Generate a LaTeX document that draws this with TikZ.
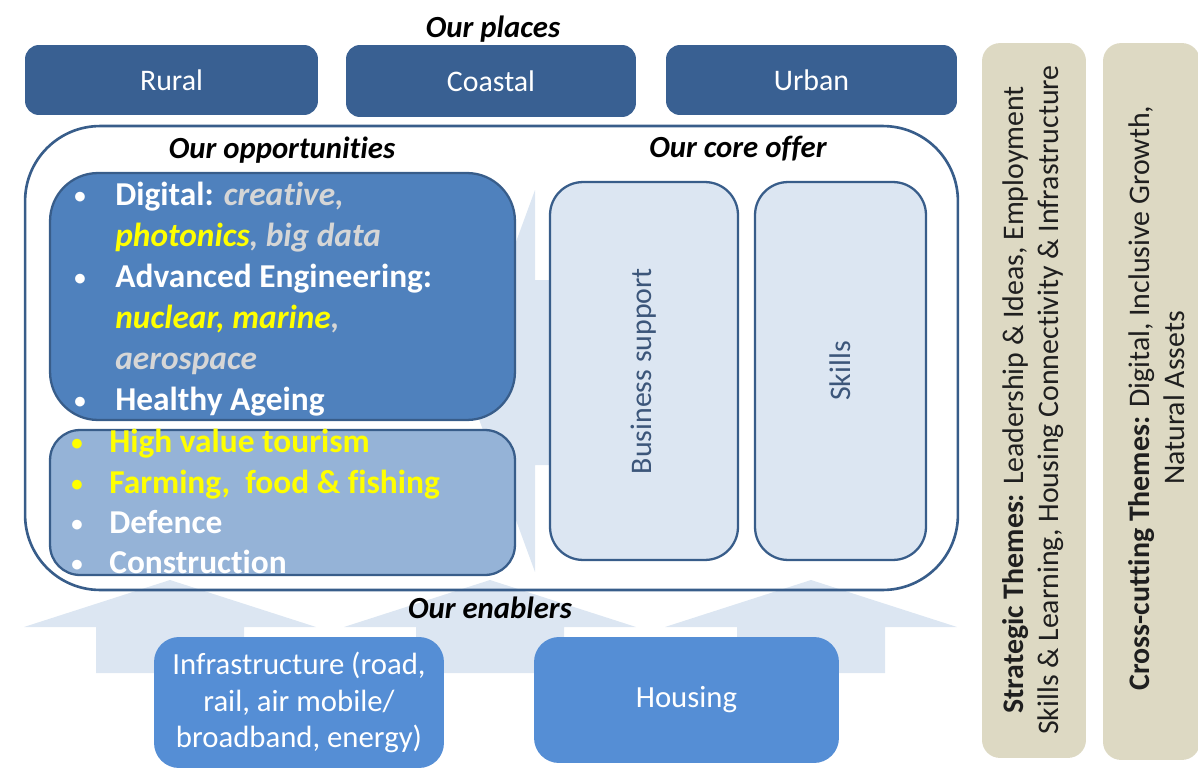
\documentclass[tikz,border=0pt]{standalone}
\usepackage{fontspec}
\setmainfont{Carlito}[Ligatures=NoCommon]
\definecolor{placeblue}{RGB}{57,96,146}
\definecolor{edgeblue}{RGB}{56,93,138}
\definecolor{oppdark}{RGB}{79,129,189}
\definecolor{opplight}{RGB}{149,179,215}
\definecolor{corefill}{RGB}{220,230,242}
\definecolor{coretext}{RGB}{60,86,122}
\definecolor{enabfill}{RGB}{85,142,213}
\definecolor{arrowfill}{RGB}{220,230,242}
\definecolor{tanfill}{RGB}{221,217,195}
\definecolor{greyit}{RGB}{214,214,214}
\definecolor{yel}{RGB}{255,255,0}
\tikzset{
  placebox/.style={fill=placeblue, rounded corners=0.28cm, text=white, inner sep=0,
    font=\fontsize{17}{20}\selectfont},
  heading/.style={anchor=base, inner sep=0, text=black, font=\bfseries\itshape\fontsize{17.5}{20}\selectfont},
  oppbox/.style={draw=edgeblue, line width=1.3pt, inner sep=0, minimum width=9.3cm},
  corebox/.style={draw=edgeblue, line width=1.3pt, fill=corefill, rounded corners=0.66cm, inner sep=0,
    minimum height=7.56cm},
  coretxt/.style={rotate=90, inner sep=0, text=coretext, font=\fontsize{17}{20}\selectfont},
  enabbox/.style={fill=enabfill, rounded corners=0.5cm, inner sep=0, text=white, align=center,
    font=\fontsize{17.5}{20.8}\selectfont},
  tanbox/.style={fill=tanfill, rounded corners=0.36cm, inner sep=0},
  tantxt/.style={rotate=90, inner sep=0, align=center, text=black!88, font=\fontsize{17}{20}\selectfont},
  btxt/.style={anchor=base west, inner sep=0, text=white, font=\bfseries\fontsize{19}{23}\selectfont},
  bul/.style={anchor=base, inner sep=0, font=\bfseries\fontsize{13}{15}\selectfont},
  bgarrow/.style={fill=arrowfill}
}
\begin{document}
\begin{tikzpicture}[x=0.02cm,y=-0.02cm]
\useasboundingbox (0,0) rectangle (1198,771);

% background arrows
\foreach \c in {170,490,811}{
  \fill[bgarrow] (\c-146,627) -- (\c,580) -- (\c+146,627) -- (\c+74,627) -- (\c+74,673)
     -- (\c-74,673) -- (\c-74,627) -- cycle;
}
\fill[bgarrow] (465,381) -- (535,190) -- (535,280) -- (700,280) -- (700,465) -- (535,465) -- (535,572) -- cycle;

% places
\node[placebox, minimum width=5.86cm, minimum height=1.4cm] (rural) at (171.5,80) {Rural};
\node[placebox, minimum width=5.8cm, minimum height=1.44cm] (coastal) at (491,81) {Coastal};
\node[placebox, minimum width=5.82cm, minimum height=1.4cm] (urban) at (811.5,80) {Urban};
\node[heading] (places) at (493,37) {Our places};

% container
\node[draw=edgeblue, line width=1.5pt, rounded corners=1.5cm, minimum width=18.66cm,
  minimum height=9.28cm, inner sep=0] (offer) at (491.5,358) {};
\node[heading] (opps) at (282,158) {Our opportunities};
\node[heading] (core) at (738,157) {Our core offer};

% opportunity boxes
\node[oppbox, fill=oppdark, rounded corners=0.96cm, minimum height=4.94cm] (oppup) at (282.5,296.5) {};
\node[oppbox, fill=opplight, rounded corners=0.6cm, minimum height=2.9cm] (opplow) at (282.5,502.5) {};

% core offer boxes
\node[corebox, minimum width=3.76cm] (business) at (644,371) {};
\node[corebox, minimum width=3.42cm] (skills) at (840.5,371) {};
\node[coretxt] (bustext) at (business.center) {Business support};
\node[coretxt] (skilltext) at (skills.center) {Skills};

% bullets upper
\node[bul, text=white] (b1) at (80,203) {\textbullet};
\node[bul, text=white] (b3) at (80,285) {\textbullet};
\node[bul, text=white] (b6) at (80,408) {\textbullet};
\node[btxt] (t1) at (115,205) {Digital: {\itshape\color{greyit}creative,}};
\node[btxt] (t2) at (115,246) {{\itshape\color{yel}photonics}{\itshape\color{greyit}, big data}};
\node[btxt] (t3) at (115,287) {Advanced Engineering:};
\node[btxt] (t4) at (115,328) {{\itshape\color{yel}nuclear, marine}{\itshape\color{greyit},}};
\node[btxt] (t5) at (115,369) {{\itshape\color{greyit}aerospace}};
\node[btxt] (t6) at (115,410) {Healthy Ageing};

% bullets lower
\node[bul, text=yel] (b7) at (77,450) {\textbullet};
\node[bul, text=yel] (b8) at (77,491) {\textbullet};
\node[bul, text=white] (b9) at (77,531) {\textbullet};
\node[bul, text=white] (b10) at (77,571) {\textbullet};
\node[btxt, text=yel] (t7) at (109,452) {High value tourism};
\node[btxt, text=yel] (t8) at (109,493) {Farming,~ food \& fishing};
\node[btxt] (t9) at (109,533) {Defence};
\node[btxt] (t10) at (109,573) {Construction};

% enablers
\node[heading] (enab) at (490,618) {Our enablers};
\node[enabbox, minimum width=5.8cm, minimum height=2.62cm] (infra) at (299,702.5)
  {Infrastructure (road,\\rail, air mobile/\\broadband, energy)};
\node[enabbox, minimum width=6.1cm, minimum height=2.52cm] (housing) at (686.5,700) {Housing};

% themes
\node[tanbox, minimum width=2.08cm, minimum height=14.3cm] (strat) at (1034,400.5) {};
\node[tanbox, minimum width=1.94cm, minimum height=14.34cm] (cross) at (1151.5,401.5) {};
\node[tantxt] (strattext) at (1033,400)
  {\textbf{Strategic Themes:} Leadership \& Ideas, Employment\\Skills \& Learning, Housing Connectivity \& Infrastructure};
\node[tantxt] (crosstext) at (1157,398)
  {\textbf{Cross-cutting Themes:} Digital, Inclusive Growth,\\Natural Assets};
\end{tikzpicture}
\end{document}
